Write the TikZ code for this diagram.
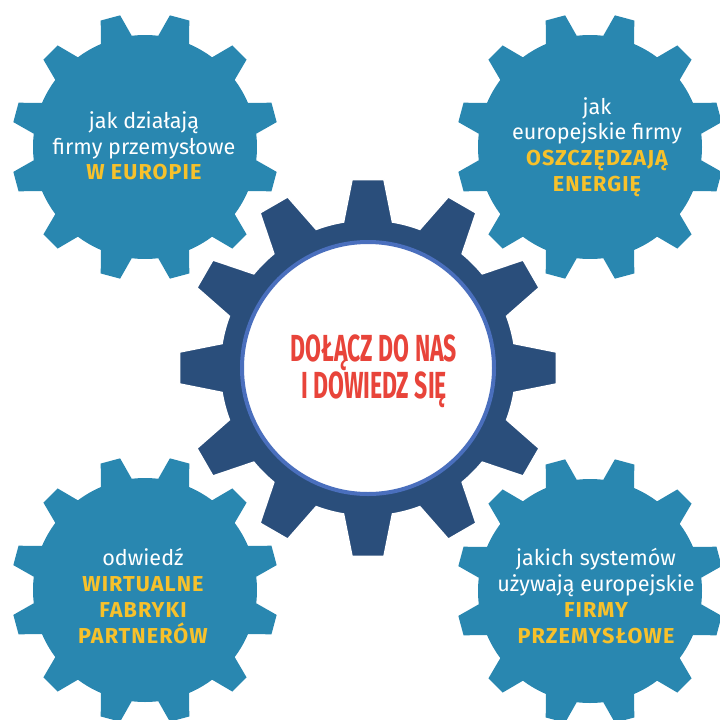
\documentclass[tikz,border=0pt]{standalone}
\usepackage{fontspec}
\setmainfont{Fira Sans}[BoldFeatures={LetterSpace=5}]
\newfontfamily\titlefont{Fira Sans}
\usepackage{graphicx}

\definecolor{gearblue}{HTML}{2987B0}
\definecolor{geardark}{HTML}{2A4E7B}
\definecolor{ringblue}{HTML}{4A6FBD}
\definecolor{hiyellow}{HTML}{F7C12B}
\definecolor{titlered}{HTML}{E8443A}

% #1 centre, #2 style, #3 outer radius, #4 root radius, #5 half tip, #6 half base, #7 first tooth
\newcommand{\gear}[7]{%
	\path[#2, shift={(#1)}] (#7-30+#6:#4)
		\foreach \a in {0,30,...,330} {
			arc[start angle=#7+\a-30+#6, end angle=#7+\a-#6, radius=#4]
			-- (#7+\a-#5:#3) -- (#7+\a+#5:#3) -- (#7+\a+#6:#4)
		} -- cycle;
}
\newcommand{\yel}[1]{{\bfseries\color{hiyellow}#1}}

\begin{document}
\begin{tikzpicture}[
		x=1pt, y=-1pt,
		lightgear/.style={fill=gearblue},
		darkgear/.style={fill=geardark, draw=white, line width=1.5pt},
		gearlabel/.style={text=white, align=center, inner sep=0, font=\fontsize{21.6}{25.7}\selectfont},
		headline/.style={text=titlered, align=center, inner sep=0, font=\titlefont\fontsize{37.7}{35}\selectfont\bfseries},
	]
	\useasboundingbox (0,0) rectangle (720,720);
	\gear{145,147}{lightgear}{134}{112}{4.3}{8.2}{15}
	\gear{590,147}{lightgear}{134}{112}{4.3}{8.2}{15}
	\gear{145,590}{lightgear}{134}{112}{4.3}{8.2}{15}
	\gear{590,591}{lightgear}{134}{112}{4.3}{8.2}{15}
	\gear{368,368}{darkgear}{189}{148}{4.85}{9.5}{0}
	\draw[ringblue, line width=4pt, fill=white] (368,368) circle[radius=126];

	\node[headline] (join) at (374,371) {\scalebox{0.61}[1]{DOŁĄCZ DO NAS}\\\scalebox{0.61}[1]{I DOWIEDZ SIĘ}};

	\node[gearlabel] (europe) at (144,146) {jak działają\\firmy przemysłowe\\\yel{W EUROPIE}};
	\node[gearlabel] (energy) at (597,147) {jak\\europejskie firmy\\\yel{OSZCZĘDZAJĄ}\\\yel{ENERGIĘ}};
	\node[gearlabel] (visit) at (143,596) {odwiedź\\\yel{WIRTUALNE}\\\yel{FABRYKI}\\\yel{PARTNERÓW}};
	\node[gearlabel] (systems) at (596,596) {jakich systemów\\używają europejskie\\\yel{FIRMY}\\\yel{PRZEMYSŁOWE}};
\end{tikzpicture}
\end{document}
